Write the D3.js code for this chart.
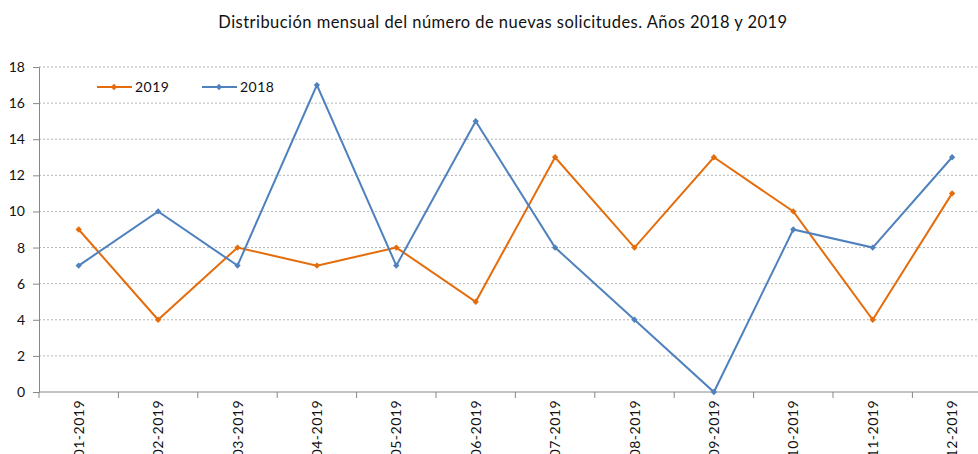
<!DOCTYPE html>
<html>
<head>
<meta charset="utf-8">
<script src="https://cdn.jsdelivr.net/npm/d3@7"></script>
<style>
  body { margin: 0; background: #fff; }
  svg { font-family: "Lato", "Open Sans", sans-serif; }
</style>
</head>
<body>
<script>
// months and values
const months = ["01-2019", "02-2019", "03-2019", "04-2019", "05-2019", "06-2019",
                "07-2019", "08-2019", "09-2019", "10-2019", "11-2019", "12-2019"];
const values2019 = [9, 4, 8, 7, 8, 5, 13, 8, 13, 10, 4, 11];
const values2018 = [7, 10, 7, 17, 7, 15, 8, 4, 0, 9, 8, 13];
const yTicks = [0, 2, 4, 6, 8, 10, 12, 14, 16, 18];

const series = [
  {name: "2019", values: values2019, color: "#E46C0A"},
  {name: "2018", values: values2018, color: "#4F81BD"}
];

const W = 978, H = 454;
const plotLeft = 39, plotTop = 67, plotBottom = 392;
const plotRight = plotLeft + 12 * 79.4;

const svg = d3.select("body").append("svg")
  .attr("width", W)
  .attr("height", H);

svg.append("text")
  .attr("x", 503)
  .attr("y", 28)
  .attr("text-anchor", "middle")
  .attr("font-size", 16.5)
  .attr("letter-spacing", 0.45)
  .attr("fill", "#111")
  .text("Distribución mensual del número de nuevas solicitudes. Años 2018 y 2019");

const x = d3.scaleBand().domain(months).range([plotLeft, plotRight]);
const y = d3.scaleLinear().domain([0, 18]).range([plotBottom, plotTop]);

// dashed gridlines
svg.append("g")
  .selectAll("line")
  .data(yTicks.filter(d => d > 0))
  .join("line")
  .attr("x1", plotLeft).attr("x2", W)
  .attr("y1", d => y(d)).attr("y2", d => y(d))
  .attr("stroke", "#b5b5b5")
  .attr("stroke-dasharray", "2,2")
  .attr("stroke-width", 1);

// y axis
const yAxis = svg.append("g")
  .attr("transform", "translate(" + plotLeft + ",0)")
  .call(d3.axisLeft(y).tickValues(yTicks).tickSize(6).tickPadding(8));
yAxis.selectAll("text").attr("font-size", 14).attr("fill", "#111").attr("font-family", "Lato, sans-serif");
yAxis.selectAll("line, path").attr("stroke", "#888");

// x axis: ticks at band boundaries
const xg = svg.append("g");
xg.append("line")
  .attr("x1", plotLeft).attr("x2", W)
  .attr("y1", plotBottom).attr("y2", plotBottom)
  .attr("stroke", "#888");
xg.selectAll(".tk")
  .data(months)
  .join("line")
  .attr("class", "tk")
  .attr("x1", d => x(d)).attr("x2", d => x(d))
  .attr("y1", plotBottom).attr("y2", plotBottom + 6)
  .attr("stroke", "#888");
xg.selectAll("text")
  .data(months)
  .join("text")
  .attr("transform", d => "translate(" + (x(d) + x.bandwidth() / 2 + 5) + "," + (plotBottom + 8) + ") rotate(-90)")
  .attr("text-anchor", "end")
  .attr("font-size", 14)
  .attr("letter-spacing", 0.5)
  .attr("fill", "#111")
  .text(d => d);

// lines and markers
const line = d3.line()
  .x((d, i) => x(months[i]) + x.bandwidth() / 2)
  .y(d => y(d));

const diamond = d3.symbol().type(d3.symbolSquare).size(20);

series.forEach(function (s) {
  svg.append("path")
    .datum(s.values)
    .attr("fill", "none")
    .attr("stroke", s.color)
    .attr("stroke-width", 2)
    .attr("d", line);
  svg.append("g")
    .selectAll("path")
    .data(s.values)
    .join("path")
    .attr("transform", (d, i) => "translate(" + (x(months[i]) + x.bandwidth() / 2) + "," + y(d) + ") rotate(45)")
    .attr("d", diamond)
    .attr("fill", s.color);
});

// legend
const legend = svg.append("g");
series.forEach(function (s, i) {
  const lx = 97 + i * 105, ly = 87;
  legend.append("line")
    .attr("x1", lx).attr("x2", lx + 35)
    .attr("y1", ly).attr("y2", ly)
    .attr("stroke", s.color)
    .attr("stroke-width", 2);
  legend.append("path")
    .attr("transform", "translate(" + (lx + 17) + "," + ly + ") rotate(45)")
    .attr("d", diamond)
    .attr("fill", s.color);
  legend.append("text")
    .attr("x", lx + 38)
    .attr("y", ly + 5)
    .attr("font-size", 14)
    .attr("letter-spacing", 0.5)
    .attr("fill", "#111")
    .text(s.name);
});
</script>
</body>
</html>
